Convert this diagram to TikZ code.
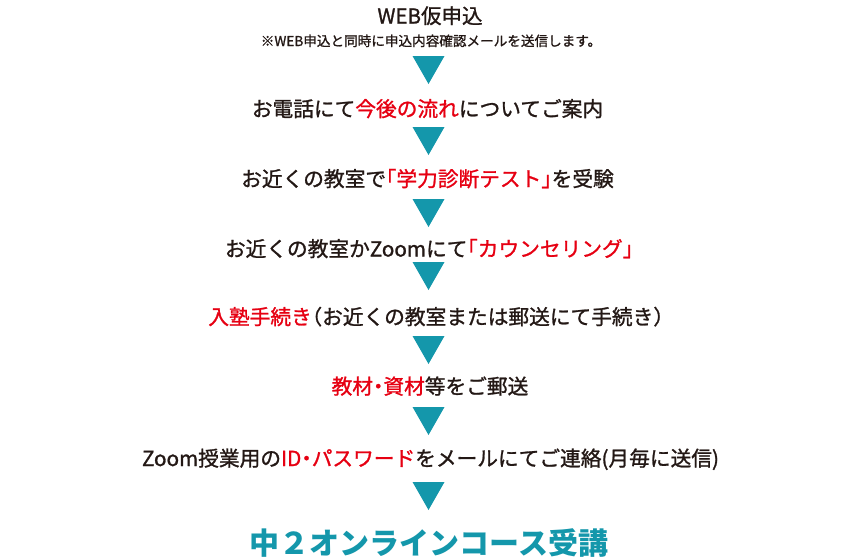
\documentclass[tikz,border=0pt]{standalone}
\usepackage{fontspec}
\setmainfont{Noto Sans CJK JP}
\newfontfamily\jpmed{Noto Sans CJK JP}[FakeBold=1.2]
\definecolor{inkc}{HTML}{231815}
\definecolor{hl}{HTML}{E60012}
\definecolor{arrowteal}{HTML}{1497AB}
\tikzset{
  stepline/.style={inner sep=0pt, anchor=base, text=inkc, font=\jpmed\fontsize{20.7}{20.7}\selectfont},
  tri/.style={fill=arrowteal},
}
\newcommand{\hlt}[1]{\textcolor{hl}{#1}}
\newcommand{\lbr}{\kern-.5em「}
\newcommand{\rbr}{」\kern-.5em}
\newcommand{\lpr}{\kern-.5em（}
\newcommand{\rpr}{）\kern-.5em}
\newcommand{\mdot}{\kern-.25em・\kern-.25em}
\begin{document}
\begin{tikzpicture}[x=1pt,y=-1pt]
\useasboundingbox (0,0) rectangle (860,557);
\node[stepline, font=\jpmed\fontsize{20.5}{20.5}\selectfont] (s0) at (430,23.5) {WEB仮申込};
\node[stepline, font=\jpmed\fontsize{13.6}{13.6}\selectfont] (n0) at (431,46) {※WEB申込と同時に申込内容確認メールを送信します。};
\node[stepline] (s1) at (427.5,116.5) {お電話にて\hlt{今後の流れ}についてご案内};
\node[stepline] (s2) at (427.5,186.5) {お近くの教室で\hlt{\lbr 学力診断テスト\rbr}を受験};
\node[stepline] (s3) at (429,256.5) {お近くの教室かZoomにて\hlt{\lbr カウンセリング\rbr}};
\node[stepline] (s4) at (436,324.5) {\hlt{入塾手続き}\lpr お近くの教室または郵送にて手続き\rpr};
\node[stepline] (s5) at (430,394) {\hlt{教材\mdot 資材}等をご郵送};
\node[stepline] (s6) at (430.5,466) {Zoom授業用の\hlt{ID\mdot パスワード}をメールにてご連絡(月毎に送信)};
\node[stepline, text=arrowteal, font=\fontsize{30}{30}\selectfont\bfseries] (s7) at (429,554) {中２オンラインコース受講};
\foreach \y in {56,127,199,262,336,407,482}
  \fill[tri] (412.5,\y) -- (444.5,\y) -- (428.5,\y+28) -- cycle;
\end{tikzpicture}
\end{document}
